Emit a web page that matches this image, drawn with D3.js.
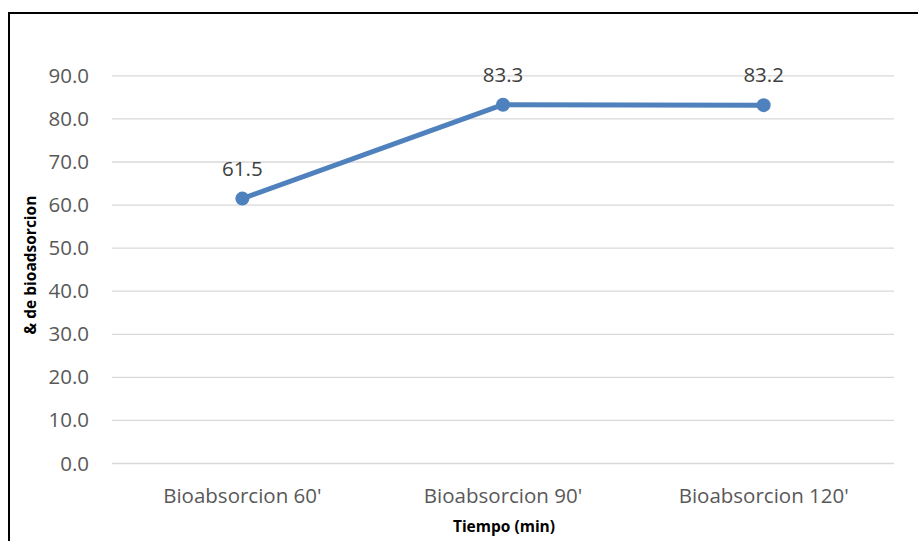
<!DOCTYPE html>
<html>
<head>
<meta charset="utf-8">
<script src="https://cdn.jsdelivr.net/npm/d3@7"></script>
<style>
  html, body { margin: 0; padding: 0; background: #fff; }
  svg { display: block; }
</style>
</head>
<body>
<svg id="chart" width="918" height="541"></svg>
<script>
// Bioadsorption percentage by contact time
const categories = ["Bioabsorcion 60'", "Bioabsorcion 90'", "Bioabsorcion 120'"];
const values = [61.5, 83.3, 83.2];
const yTicks = [0, 10, 20, 30, 40, 50, 60, 70, 80, 90];

const svg = d3.select("#chart");
const W = 918, H = 541;
const font = "'Open Sans', sans-serif";

// chart frame
svg.append("rect")
  .attr("x", 9).attr("y", 13)
  .attr("width", W + 10).attr("height", H + 10)
  .attr("fill", "#fff").attr("stroke", "#000").attr("stroke-width", 2);

const plot = { left: 112, right: 894, top: 34, bottom: 463.5 };

const x = d3.scaleBand()
  .domain(categories)
  .range([plot.left, plot.right]);

const y = d3.scaleLinear()
  .domain([0, 90])
  .range([plot.bottom, plot.bottom - 90 * 4.307]);

// horizontal gridlines
svg.append("g")
  .selectAll("line")
  .data(yTicks)
  .join("line")
  .attr("x1", plot.left).attr("x2", plot.right)
  .attr("y1", d => y(d)).attr("y2", d => y(d))
  .attr("stroke", "#d9d9d9").attr("stroke-width", 1.3);

// y axis labels
const yAxis = d3.axisLeft(y).tickValues(yTicks).tickFormat(d3.format(".1f")).tickSize(0).tickPadding(0);
const gy = svg.append("g").attr("transform", `translate(89,0)`).call(yAxis);
gy.select(".domain").remove();
gy.selectAll("text")
  .attr("font-family", font).attr("font-size", 20.5).attr("fill", "#595959");

// x axis labels
const xAxis = d3.axisBottom(x).tickSize(0).tickPadding(0);
const gx = svg.append("g").attr("transform", `translate(0,503)`).call(xAxis);
gx.select(".domain").remove();
gx.selectAll("text")
  .attr("dy", 0)
  .attr("font-family", font).attr("font-size", 20.5).attr("fill", "#595959");

// axis titles
svg.append("text")
  .attr("x", (plot.left + plot.right) / 2 + 1).attr("y", 532)
  .attr("text-anchor", "middle")
  .attr("font-family", font).attr("font-size", 15.5).attr("font-weight", "bold")
  .attr("fill", "#000")
  .text("Tiempo (min)");

svg.append("text")
  .attr("transform", `translate(36,265) rotate(-90)`)
  .attr("text-anchor", "middle")
  .attr("font-family", font).attr("font-size", 15.5).attr("font-weight", "bold")
  .attr("fill", "#000")
  .text("& de bioadsorcion");

// series line
const cx = d => x(d) + x.bandwidth() / 2;
const pts = categories.map((c, i) => [cx(c), y(values[i])]);

svg.append("path")
  .datum(pts)
  .attr("d", d3.line())
  .attr("fill", "none")
  .attr("stroke", "#4f81bd").attr("stroke-width", 5)
  .attr("stroke-linejoin", "round").attr("stroke-linecap", "round");

svg.append("g")
  .selectAll("circle")
  .data(pts)
  .join("circle")
  .attr("cx", d => d[0]).attr("cy", d => d[1])
  .attr("r", 7)
  .attr("fill", "#4f81bd");

// data labels
svg.append("g")
  .selectAll("text")
  .data(values)
  .join("text")
  .attr("x", (d, i) => pts[i][0])
  .attr("y", (d, i) => pts[i][1] - 23)
  .attr("text-anchor", "middle")
  .attr("font-family", font).attr("font-size", 20.5).attr("fill", "#404040")
  .text(d => d.toFixed(1));
</script>
</body>
</html>
